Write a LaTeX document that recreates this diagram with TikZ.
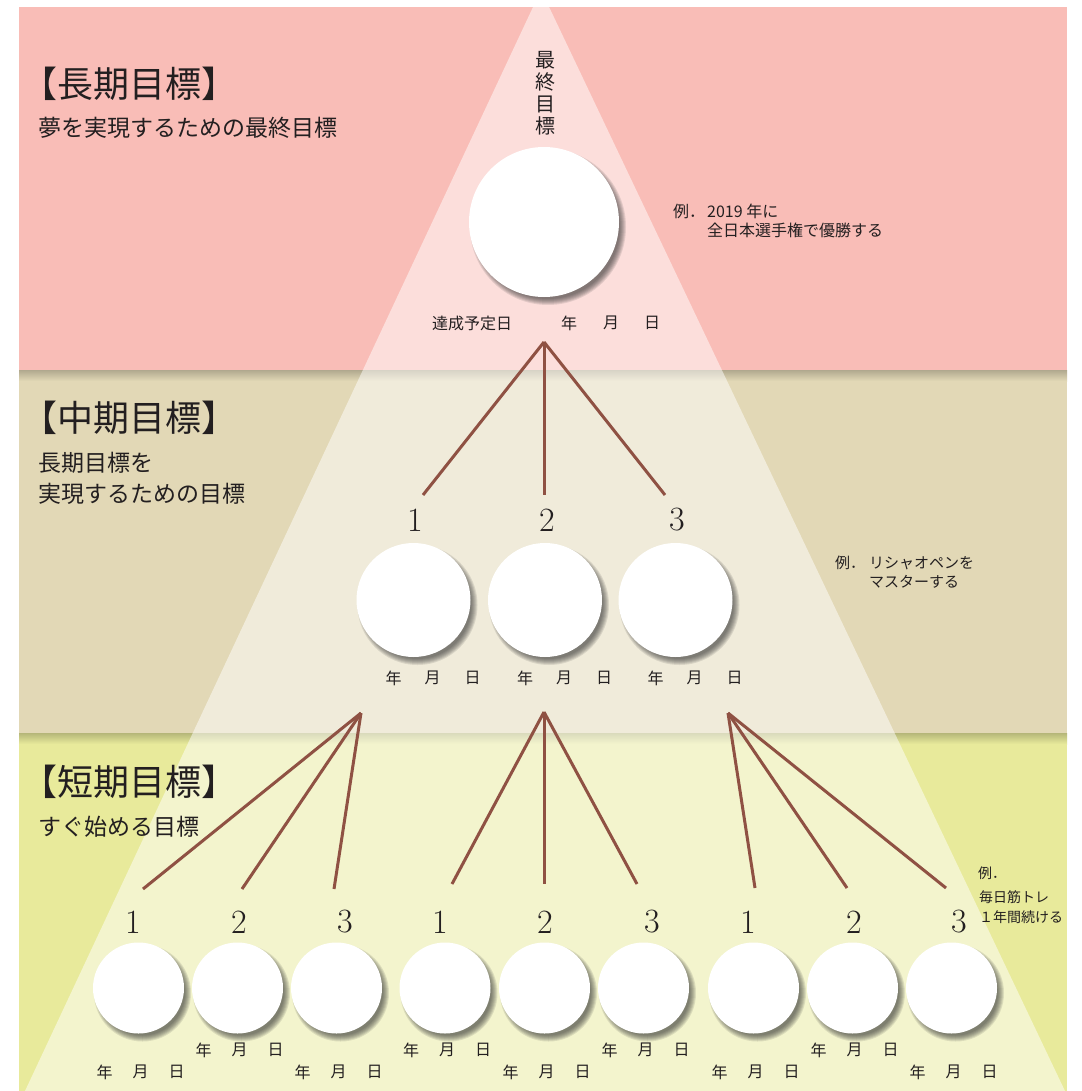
\documentclass[tikz,border=0pt]{standalone}
\usepackage{fontspec}
\newfontfamily\jp{Noto Sans CJK JP}
\usetikzlibrary{calc}
\definecolor{pinkband}{HTML}{F9BDB7}
\definecolor{tanband}{HTML}{E2D8B6}
\definecolor{yelband}{HTML}{E8EA9B}
\definecolor{connc}{HTML}{8F5143}
\definecolor{txt}{HTML}{231F20}
\begin{document}
\begin{tikzpicture}[x=1pt,y=-1pt,
  connector/.style={draw=connc, line width=3pt},
  goal/.style={circle, fill=white, inner sep=0pt},
  heading/.style={anchor=west, inner sep=0pt, text=txt, font=\jp\fontsize{36}{36}\selectfont},
  subhead/.style={anchor=west, inner sep=0pt, text=txt, font=\jp\fontsize{23}{23}\selectfont},
  datelbl/.style={inner sep=0pt, text=txt, font=\jp\fontsize{16}{16}\selectfont},
  example/.style={anchor=west, inner sep=0pt, text=txt, font=\jp\fontsize{15}{15}\selectfont},
  numlbl/.style={inner sep=0pt, text=txt, font=\fontsize{34}{34}\selectfont},
]
\useasboundingbox (0,0) rectangle (1081,1091);
\fill[white] (0,0) rectangle (1081,1091);
% bands
\fill[pinkband] (19,7) rectangle (1067,370);
\fill[tanband] (19,370) rectangle (1067,733);
\fill[yelband] (19,733) rectangle (1067,1091);
% band shadows
\shade[top color=tanband!78!black, bottom color=tanband] (19,370) rectangle (1067,381);
\shade[top color=yelband!78!black, bottom color=yelband] (19,733) rectangle (1067,744);
% translucent pyramid
\begin{scope}
\clip (19,7) rectangle (1067,1091);
\fill[white, opacity=0.5] (541,-10) -- (25,1091) -- (1065,1091) -- cycle;
\end{scope}

% connector coordinates
\coordinate (topjoin) at (544,342);
\coordinate (m1) at (423,495);
\coordinate (m2) at (544,495);
\coordinate (m3) at (665,495);
\coordinate (ja) at (361,713);
\coordinate (jb) at (544,712);
\coordinate (jc) at (728,713);
\coordinate (s1) at (143,889);
\coordinate (s2) at (242,889);
\coordinate (s3) at (334,889);
\coordinate (s4) at (452,884);
\coordinate (s5) at (544,884);
\coordinate (s6) at (637,884);
\coordinate (s7) at (755,888);
\coordinate (s8) at (847,888);
\coordinate (s9) at (946,888);
\foreach \e in {m1,m2,m3} \draw[connector] (topjoin) -- (\e);
\foreach \e in {s1,s2,s3} \draw[connector] (ja) -- (\e);
\foreach \e in {s4,s5,s6} \draw[connector] (jb) -- (\e);
\foreach \e in {s7,s8,s9} \draw[connector] (jc) -- (\e);

% circles with soft shadows
\foreach \nm/\cx/\cy/\r in {top/544/222/75,
   mid1/413.5/600/57, mid2/545/600/57, mid3/675.5/600/57,
   b1/138.5/988/45.5, b2/237.5/988/45.5, b3/336.5/988/45.5,
   b4/445/988/45.5, b5/544.5/988/45.5, b6/643.5/988/45.5,
   b7/753.5/988/45.5, b8/852.5/988/45.5, b9/951.5/988/45.5}{
  \foreach \d in {-3,-2,-1,0,1,2,3}{
    \fill[black!80, opacity=0.12] (\cx+4,\cy+5) circle[radius={(\r+\d)*1pt}];
  }
  \node[goal, minimum size={2*\r*1pt}] (\nm) at (\cx,\cy) {};
}

% headings
\node[heading] (h1) at (21,84) {【長期目標】};
\node[subhead] (h1s) at (38,128) {夢を実現するための最終目標};
\node[heading] (h2) at (21,418) {【中期目標】};
\node[subhead] (h2a) at (38,463) {長期目標を};
\node[subhead] (h2b) at (38,494) {実現するための目標};
\node[heading] (h3) at (21,782) {【短期目標】};
\node[subhead] (h3s) at (38,827) {すぐ始める目標};

% vertical label
\node[inner sep=0pt, text=txt, font=\jp\fontsize{20}{22}\selectfont, align=center] (vt) at (545,93) {最\\終\\目\\標};

% top date
\node[datelbl] (tdone) at (472,323) {達成予定日};
\node[datelbl] (ty) at (569,323) {年};
\node[datelbl] (tm) at (611,323) {月};
\node[datelbl] (td) at (652,323) {日};

% middle numbers and dates
\foreach \i/\cx/\nx in {1/413.5/415, 2/545/547, 3/675.5/677}{
  \node[numlbl] (mn\i) at (\nx,520) {\i};
  \node[datelbl] (my\i) at (\cx-20,678) {年};
  \node[datelbl] (mm\i) at (\cx+19,678) {月};
  \node[datelbl] (md\i) at (\cx+59,678) {日};
}

% bottom numbers
\foreach \i/\nx/\t in {1/133/1, 2/239/2, 3/345/3, 4/440/1, 5/545/2, 6/652/3, 7/748/1, 8/854/2, 9/959/3}{
  \node[numlbl] (bn\i) at (\nx,922) {\t};
}
% bottom dates (alternating rows)
\foreach \i/\cx/\dy in {1/138.5/1072, 2/237.5/1050, 3/336.5/1072, 4/445/1050, 5/544.5/1072, 6/643.5/1050, 7/753.5/1072, 8/852.5/1050, 9/951.5/1072}{
  \node[datelbl] (by\i) at (\cx-34,\dy) {年};
  \node[datelbl] (bm\i) at (\cx+2,\dy) {月};
  \node[datelbl] (bd\i) at (\cx+38,\dy) {日};
}

% examples
\node[example, font=\jp\fontsize{16}{16}\selectfont] (e1a) at (673,211) {例．};
\node[example, font=\jp\fontsize{16}{16}\selectfont] (e1b) at (707,211) {2019 年に};
\node[example, font=\jp\fontsize{16}{16}\selectfont] (e1c) at (707,230) {全日本選手権で優勝する};
\node[example] (e2a) at (835,563) {例．};
\node[example] (e2b) at (869,563) {リシャオペンを};
\node[example] (e2c) at (869,582) {マスターする};
\node[example, font=\jp\fontsize{14}{14}\selectfont] (e3a) at (978,873) {例．};
\node[example, font=\jp\fontsize{14}{14}\selectfont] (e3b) at (979,897) {毎日筋トレ};
\node[example, font=\jp\fontsize{14}{14}\selectfont] (e3c) at (979,917) {１年間続ける};
\end{tikzpicture}
\end{document}
